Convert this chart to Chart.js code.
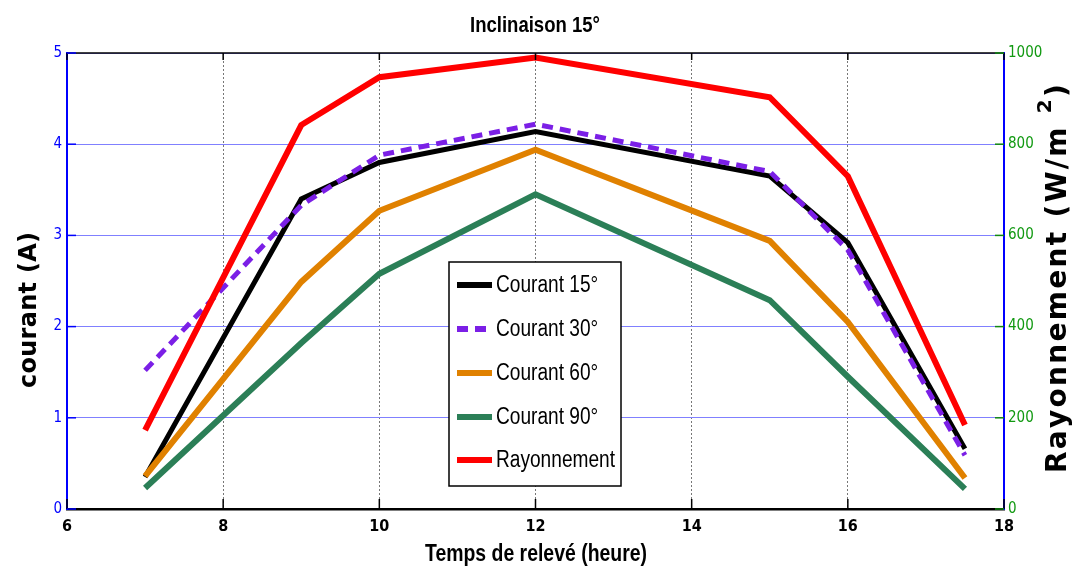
<!DOCTYPE html>
<html><head><meta charset="utf-8">
<script src="https://cdn.jsdelivr.net/npm/chart.js@4/dist/chart.umd.min.js"></script>
<style>html,body{margin:0;padding:0;background:#fff}#wrap{width:1080px;height:574px}</style>
</head><body><div id="wrap"><canvas id="c" width="1080" height="574"></canvas></div>
<script>
const hours = [7, 9, 10, 12, 15, 16, 17.5];
const courant15 = [0.35, 3.40, 3.80, 4.14, 3.65, 2.92, 0.66];
const courant30 = [1.52, 3.33, 3.88, 4.22, 3.70, 2.84, 0.59];
const courant60 = [0.36, 2.49, 3.27, 3.94, 2.94, 2.05, 0.34];
const courant90 = [0.23, 1.82, 2.58, 3.45, 2.29, 1.45, 0.22];
const rayonnement = [173, 842, 947, 990, 903, 730, 184];
const xTicks = [6, 8, 10, 12, 14, 16, 18];
const labels = ['Courant 15°', 'Courant 30°', 'Courant 60°', 'Courant 90°', 'Rayonnement'];

const NARROW = "'Liberation Sans Narrow','Arial Narrow','DejaVu Sans Condensed','Liberation Sans',sans-serif";
const WIDE = "'Liberation Sans',Arial,sans-serif";
const HEAVY = "'DejaVu Sans',Verdana,sans-serif";

const pts = a => a.map((v, i) => ({x: hours[i], y: v}));

function squeezed(ctx, text, x, y, font, sx, align) {
  ctx.save();
  ctx.font = font;
  const w = ctx.measureText(text).width * sx;
  let left = x;
  if (align === 'center') left = x - w / 2;
  ctx.translate(left, y);
  ctx.scale(sx, 1);
  ctx.textAlign = 'left';
  ctx.fillText(text, 0, 0);
  ctx.restore();
}
function fitScale(ctx, text, font, target) {
  ctx.save(); ctx.font = font;
  const w = ctx.measureText(text).width;
  ctx.restore();
  return target / w;
}
function spaced(ctx, pieces, target) {
  let n = 0, w = 0;
  pieces.forEach(p => { ctx.font = p.font; p.w = ctx.measureText(p.t).width; w += p.w; n += p.t.length; });
  const gap = (target - w) / (n - 1);
  const sx = gap < 0 ? target / w : 1;
  const g = Math.max(0, gap);
  ctx.save();
  ctx.scale(sx, 1);
  let x = -(target / sx) / 2;
  ctx.textAlign = 'left';
  pieces.forEach(p => {
    ctx.font = p.font;
    for (const ch of p.t) {
      ctx.fillText(ch, x, p.dy || 0);
      x += ctx.measureText(ch).width + g;
    }
  });
  ctx.restore();
}

const deco = {
  id: 'deco',
  afterDraw(chart) {
    const ctx = chart.ctx, a = chart.chartArea;
    const xs = chart.scales.x;
    ctx.save();
    ctx.strokeStyle = '#000'; ctx.lineWidth = 1.5;
    ctx.beginPath(); ctx.moveTo(a.left, a.top); ctx.lineTo(a.right, a.top); ctx.stroke();
    xTicks.forEach(t => {
      const px = xs.getPixelForValue(t);
      ctx.beginPath(); ctx.moveTo(px, a.bottom); ctx.lineTo(px, a.bottom - 10); ctx.stroke();
      ctx.beginPath(); ctx.moveTo(px, a.top); ctx.lineTo(px, a.top + 7); ctx.stroke();
    });
    const y = chart.scales.y, y1 = chart.scales.y1;
    ctx.strokeStyle = '#0000ff';
    [0,1,2,3,4,5].forEach(v => {
      const py = y.getPixelForValue(v);
      ctx.beginPath(); ctx.moveTo(a.left, py); ctx.lineTo(a.left + 9, py); ctx.stroke();
    });
    ctx.strokeStyle = '#118811';
    [0,200,400,600,800,1000].forEach(v => {
      const py = y1.getPixelForValue(v);
      ctx.beginPath(); ctx.moveTo(a.right, py); ctx.lineTo(a.right - 9, py); ctx.stroke();
    });
    ctx.fillStyle = '#000';
    ctx.textBaseline = 'middle';
    let f = "bold 22px " + WIDE;
    squeezed(ctx, 'Inclinaison 15°', 535, 26, f, fitScale(ctx, 'Inclinaison 15°', f, 130), 'center');
    f = "bold 24px " + WIDE;
    squeezed(ctx, 'Temps de relevé (heure)', 536, 554, f, fitScale(ctx, 'Temps de relevé (heure)', f, 222), 'center');
    // left title
    ctx.save();
    ctx.translate(30, 310); ctx.rotate(-Math.PI / 2);
    spaced(ctx, [{t: 'courant (A)', font: "bold 24px " + HEAVY}], 156);
    ctx.restore();
    // right title
    ctx.save();
    ctx.translate(1059, 279); ctx.rotate(-Math.PI / 2);
    const big = "bold 28px " + HEAVY, small = "bold 20px " + HEAVY;
    spaced(ctx, [{t: 'Rayonnement (W/m ', font: big}, {t: '2', font: small, dy: -13}, {t: ')', font: big}], 388);
    ctx.restore();
    // legend
    const bx = 449, by = 262, bw = 172, bh = 224;
    ctx.fillStyle = '#fff';
    ctx.fillRect(bx, by, bw, bh);
    ctx.strokeStyle = '#000'; ctx.lineWidth = 1.5;
    ctx.strokeRect(bx, by, bw, bh);
    const ds = chart.data.datasets;
    const rows = [285, 329, 373, 417, 460];
    const lf = "23px " + WIDE;
    const ls = fitScale(ctx, 'Rayonnement', lf, 119);
    ds.forEach((d, i) => {
      const ry = rows[i];
      ctx.strokeStyle = d.borderColor; ctx.lineWidth = 6;
      ctx.setLineDash(d.borderDash || []);
      ctx.beginPath(); ctx.moveTo(457, ry); ctx.lineTo(492, ry); ctx.stroke();
      ctx.setLineDash([]);
      ctx.fillStyle = '#000'; ctx.textBaseline = 'middle';
      squeezed(ctx, d.label, 496, ry + 1, lf, ls, 'left');
    });
    ctx.restore();
  }
};

new Chart(document.getElementById('c'), {
  type: 'line',
  data: {
    datasets: [
      {label: labels[0], data: pts(courant15), borderColor: '#000000', borderWidth: 5, yAxisID: 'y', order: 4},
      {label: labels[1], data: pts(courant30), borderColor: '#7b1fe6', borderWidth: 5, borderDash: [11, 7], yAxisID: 'y', order: 3},
      {label: labels[2], data: pts(courant60), borderColor: '#e08100', borderWidth: 6, yAxisID: 'y', order: 2},
      {label: labels[3], data: pts(courant90), borderColor: '#2b7f57', borderWidth: 6, yAxisID: 'y', order: 1},
      {label: labels[4], data: pts(rayonnement), borderColor: '#ff0000', borderWidth: 6, yAxisID: 'y1', order: 0}
    ]
  },
  options: {
    responsive: false, animation: false,
    layout: {padding: {top: 53, left: 0, right: 0, bottom: 0}},
    elements: {point: {radius: 0}, line: {tension: 0, borderCapStyle: 'butt', borderJoinStyle: 'miter'}},
    plugins: {legend: {display: false}, tooltip: {enabled: false}},
    scales: {
      x: {
        type: 'linear', min: 6, max: 18,
        afterBuildTicks: s => { s.ticks = xTicks.map(v => ({value: v})); },
        afterFit: s => { s.height = 65; },
        grid: {color: '#777777', lineWidth: 1, drawTicks: false},
        border: {color: '#000000', width: 2.5, dash: [2, 2]},
        ticks: {color: '#000', padding: 8, font: {family: NARROW, size: 16, weight: 'bold'}, maxRotation: 0}
      },
      y: {
        position: 'left', min: 0, max: 5,
        ticks: {stepSize: 1, color: '#0000ff', padding: 5, font: {family: NARROW, size: 15}},
        afterFit: s => { s.width = 67; },
        grid: {color: '#8080ff', lineWidth: 1, drawTicks: false},
        border: {color: '#0000ff', width: 2}
      },
      y1: {
        position: 'right', min: 0, max: 1000,
        ticks: {stepSize: 200, color: '#119911', padding: 4, font: {family: NARROW, size: 15}, callback: v => String(v)},
        afterFit: s => { s.width = 76; },
        grid: {drawOnChartArea: false, drawTicks: false},
        border: {color: '#0000ff', width: 2}
      }
    }
  },
  plugins: [deco]
});
</script></body></html>
